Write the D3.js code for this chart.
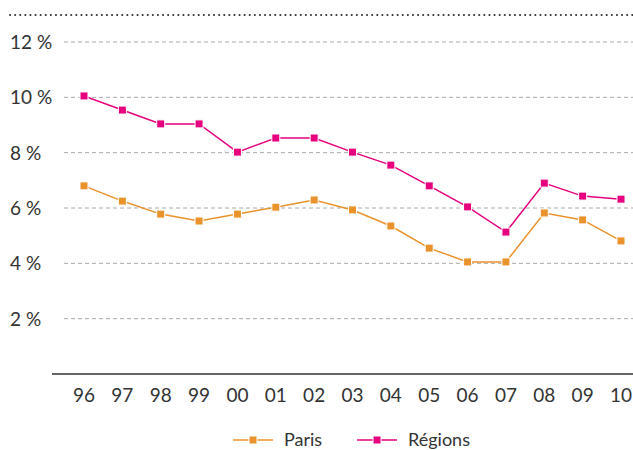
<!DOCTYPE html>
<html>
<head>
<meta charset="utf-8">
<script src="https://cdn.jsdelivr.net/npm/d3@7"></script>
<style>
  body { margin: 0; background: #fff; }
  svg { display: block; font-family: "Lato", "DejaVu Sans", sans-serif; }
</style>
</head>
<body>
<svg width="633" height="450"></svg>
<script>
"use strict";

// années (axe des x)
var annees = ["96", "97", "98", "99", "00", "01", "02", "03", "04", "05", "06", "07", "08", "09", "10"];

// taux en %
var paris = [6.8, 6.25, 5.78, 5.53, 5.78, 6.03, 6.29, 5.93, 5.35, 4.55, 4.05, 4.05, 5.82, 5.57, 4.81];
var regions = [10.05, 9.54, 9.04, 9.04, 8.02, 8.53, 8.53, 8.02, 7.55, 6.8, 6.04, 5.13, 6.9, 6.43, 6.32];

var graduations = [2, 4, 6, 8, 10, 12];

var series = [
    { nom: "Paris", valeurs: paris, couleur: "#ea922c" },
    { nom: "Régions", valeurs: regions, couleur: "#e6007e" }
];

var svg = d3.select("svg");

var x = d3.scalePoint()
    .domain(annees)
    .range([84, 621]);

var y = d3.scaleLinear()
    .domain([0, 12])
    .range([374, 42]);

// ligne pointillée en haut
svg.append("line")
    .attr("x1", 10).attr("x2", 633)
    .attr("y1", 15).attr("y2", 15)
    .attr("stroke", "#333")
    .attr("stroke-width", 2)
    .attr("stroke-linecap", "round")
    .attr("stroke-dasharray", "0.1 5");

// grille horizontale
svg.append("g")
    .selectAll("line")
    .data(graduations)
    .enter().append("line")
    .attr("x1", 64).attr("x2", 633)
    .attr("y1", d => y(d)).attr("y2", d => y(d))
    .attr("stroke", "#aaa")
    .attr("stroke-width", 1)
    .attr("stroke-dasharray", "4 3");

svg.append("g")
    .selectAll("text")
    .data(graduations)
    .enter().append("text")
    .attr("x", 10)
    .attr("y", d => y(d) + 7)
    .attr("font-size", 19)
    .attr("fill", "#333")
    .text(d => d + " %");

// axe des x
svg.append("line")
    .attr("x1", 52).attr("x2", 633)
    .attr("y1", 374).attr("y2", 374)
    .attr("stroke", "#666")
    .attr("stroke-width", 2);

svg.append("g")
    .selectAll("text")
    .data(annees)
    .enter().append("text")
    .attr("x", d => x(d))
    .attr("y", 402)
    .attr("text-anchor", "middle")
    .attr("font-size", 19)
    .attr("fill", "#333")
    .text(d => d);

var ligne = d3.line()
    .x((d, i) => x(annees[i]))
    .y(d => y(d));

series.forEach(function (s) {
    var g = svg.append("g");
    g.append("path")
        .attr("d", ligne(s.valeurs))
        .attr("fill", "none")
        .attr("stroke", s.couleur)
        .attr("stroke-width", 1.5);
    g.selectAll("rect")
        .data(s.valeurs)
        .enter().append("rect")
        .attr("x", (d, i) => x(annees[i]) - 4)
        .attr("y", d => y(d) - 4)
        .attr("width", 8)
        .attr("height", 8)
        .attr("fill", s.couleur)
        .attr("stroke", "#fff")
        .attr("stroke-width", 1);
});

// légende
var legende = svg.append("g")
    .selectAll("g")
    .data(series)
    .enter().append("g")
    .attr("transform", (d, i) => "translate(" + (233 + i * 124) + ",440)");

legende.append("line")
    .attr("x1", 0).attr("x2", 40)
    .attr("stroke", d => d.couleur)
    .attr("stroke-width", 1.5);

legende.append("rect")
    .attr("x", 16).attr("y", -4)
    .attr("width", 8).attr("height", 8)
    .attr("fill", d => d.couleur)
    .attr("stroke", "#fff");

legende.append("text")
    .attr("x", 51)
    .attr("y", 6)
    .attr("font-size", 18)
    .attr("fill", "#333")
    .text(d => d.nom);
</script>
</body>
</html>
